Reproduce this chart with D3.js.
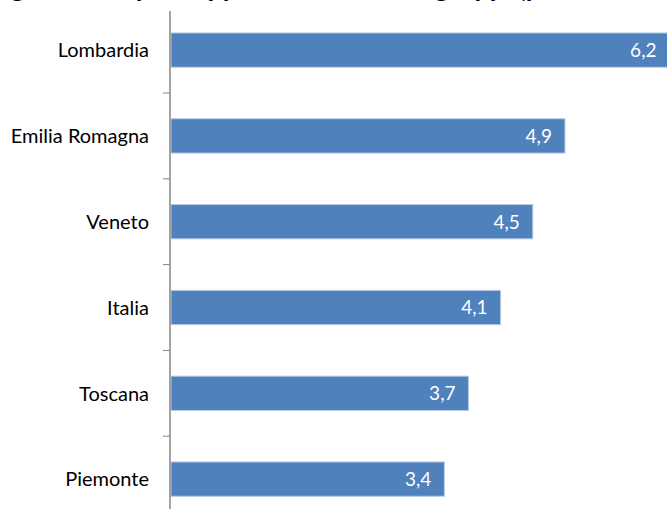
<!DOCTYPE html>
<html>
<head>
<meta charset="utf-8">
<script src="https://cdn.jsdelivr.net/npm/d3@7/dist/d3.min.js"></script>
<style>
  html, body { margin: 0; padding: 0; background: #fff; }
  svg { display: block; }
  text { font-family: Lato, "Open Sans", sans-serif; }
</style>
</head>
<body>
<div id="chart"></div>
<script>
// Regional values, top to bottom
const categories = ["Lombardia", "Emilia Romagna", "Veneto", "Italia", "Toscana", "Piemonte"];
const values = [6.2, 4.9, 4.5, 4.1, 3.7, 3.4];
const valueLabels = ["6,2", "4,9", "4,5", "4,1", "3,7", "3,4"];
const titleText = "Regioni: dati per l'apporto delle reti ai gruppi (percentuale)";

const W = 667, H = 509;
const svg = d3.select("#chart").append("svg")
  .attr("width", W).attr("height", H);

const axisX = 170;

const x = d3.scaleLinear().domain([0, 7]).range([axisX + 1, axisX + 1 + 7 * 80.4]);
const y = d3.scaleBand().domain(categories)
  .range([7.2, 7.2 + 6 * 85.8])
  .paddingInner(0.6).paddingOuter(0.3);

// Title line, set high so it runs off the top edge
svg.append("text")
  .attr("x", -20).attr("y", -3)
  .attr("font-size", 27).attr("font-weight", 700)
  .attr("fill", "#000")
  .text(titleText);

// Bars
const rows = categories.map((c, i) => ({ c, v: values[i], label: valueLabels[i] }));
svg.append("g").selectAll("rect").data(rows).join("rect")
  .attr("x", x(0))
  .attr("y", d => y(d.c))
  .attr("width", d => x(d.v) - x(0))
  .attr("height", y.bandwidth())
  .attr("fill", "#4F81BD")
  .attr("stroke", "#BACDE6")
  .attr("stroke-width", 1);

// Value labels inside bar ends
svg.append("g").selectAll("text").data(rows).join("text")
  .attr("x", d => x(d.v) - 13)
  .attr("y", d => y(d.c) + y.bandwidth() / 2)
  .attr("dy", "0.36em")
  .attr("text-anchor", "end")
  .attr("font-size", 19)
  .attr("fill", "#fff")
  .text(d => d.label);

// Category axis: line, boundary ticks, labels
const axis = svg.append("g");
axis.append("line")
  .attr("x1", axisX).attr("x2", axisX)
  .attr("y1", 11).attr("y2", H)
  .attr("stroke", "#868686").attr("stroke-width", 1.5);

const boundaries = categories.slice(1).map(c => y(c) - (y.step() - y.bandwidth()) / 2);
axis.selectAll("line.tick").data(boundaries).join("line")
  .attr("class", "tick")
  .attr("x1", axisX - 7).attr("x2", axisX)
  .attr("y1", d => d).attr("y2", d => d)
  .attr("stroke", "#868686").attr("stroke-width", 1);

axis.selectAll("text.cat").data(categories).join("text")
  .attr("class", "cat")
  .attr("x", 149)
  .attr("y", d => y(d) + y.bandwidth() / 2)
  .attr("dy", "0.36em")
  .attr("text-anchor", "end")
  .attr("font-size", 20)
  .attr("fill", "#000")
  .text(d => d);
</script>
</body>
</html>
